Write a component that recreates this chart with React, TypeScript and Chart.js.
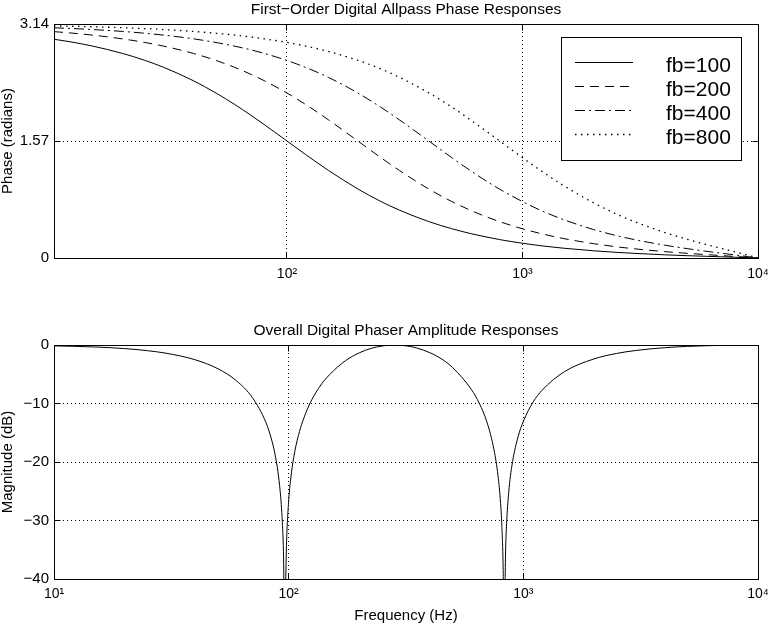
import React, { useEffect, useRef } from "react";
import { Chart, registerables } from "chart.js";

Chart.register(...registerables);

const FONT = "'Liberation Sans', Arial, Helvetica, sans-serif";

// ---------- Top plot: first-order allpass phase responses ----------
const phaseTitle = "First\u2212Order Digital Allpass Phase Responses";
const phaseYLabel = "Phase (radians)";
const phaseFreqs = [10.25, 12, 15, 20, 25, 30, 40, 50, 60, 70, 80, 100, 120, 150, 200, 250, 300, 400, 500, 600, 700, 800, 1000, 1200, 1500, 2000, 2500, 3000, 4000, 5000, 6000, 7000, 8000, 9000, 10000];
const phaseFb100 = [2.937, 2.903, 2.844, 2.747, 2.652, 2.559, 2.381, 2.214, 2.061, 1.920, 1.792, 1.571, 1.389, 1.176, 0.927, 0.760, 0.643, 0.489, 0.394, 0.329, 0.283, 0.247, 0.198, 0.164, 0.131, 0.097, 0.076, 0.062, 0.043, 0.031, 0.023, 0.016, 0.010, 0.005, 0];
const phaseFb200 = [3.039, 3.022, 2.992, 2.942, 2.893, 2.844, 2.747, 2.652, 2.559, 2.468, 2.381, 2.215, 2.061, 1.855, 1.571, 1.349, 1.176, 0.926, 0.760, 0.642, 0.555, 0.488, 0.392, 0.327, 0.260, 0.193, 0.151, 0.123, 0.086, 0.063, 0.046, 0.032, 0.020, 0.010, 0];
const phaseFb400 = [3.090, 3.082, 3.067, 3.042, 3.017, 2.992, 2.943, 2.893, 2.844, 2.796, 2.747, 2.652, 2.559, 2.425, 2.215, 2.025, 1.855, 1.571, 1.349, 1.175, 1.036, 0.924, 0.757, 0.637, 0.513, 0.383, 0.301, 0.246, 0.173, 0.126, 0.091, 0.064, 0.041, 0.020, 0];
const phaseFb800 = [3.116, 3.112, 3.104, 3.092, 3.079, 3.067, 3.042, 3.017, 2.993, 2.968, 2.943, 2.894, 2.845, 2.773, 2.654, 2.539, 2.427, 2.217, 2.028, 1.857, 1.704, 1.571, 1.347, 1.170, 0.969, 0.742, 0.592, 0.486, 0.344, 0.251, 0.183, 0.129, 0.082, 0.040, 0];
const phaseSeriesLabels = ["fb=100", "fb=200", "fb=400", "fb=800"];
const phaseYTicks = [0, 1.5708, 3.1416];
const phaseYTickLabels = ["0", "1.57", "3.14"];
const phaseXTicks = [100, 1000, 10000];
const phaseXMin = 10.25;
const phaseXMax = 10000;
const phaseYMin = 0;
const phaseYMax = 3.1416;

// ---------- Bottom plot: overall phaser amplitude response ----------
const magTitle = "Overall Digital Phaser Amplitude Responses";
const magYLabel = "Magnitude (dB)";
const magXLabel = "Frequency (Hz)";
const magFreqs = [10, 12, 15, 20, 25, 30, 40, 50, 60, 70, 80, 85, 88, 90, 92, 93, 94, 95, 96, 97, 98, 100, 102, 105, 110, 120, 135, 150, 175, 200, 225, 250, 270, 285, 300, 320, 350, 400, 450, 500, 600, 650, 700, 750, 780, 800, 810, 820, 825, 832, 840, 850, 870, 900, 950, 1000, 1100, 1200, 1500, 2000, 2500, 3000, 4000, 5000, 6000, 7000, 8000, 9000, 10000];
const magDb = [-0.15, -0.22, -0.34, -0.61, -0.97, -1.40, -2.53, -4.07, -6.14, -8.98, -13.25, -16.50, -19.23, -21.65, -24.98, -27.28, -30.39, -35.26, -47.2, -41.5, -33.47, -26.65, -22.92, -19.30, -15.48, -11.02, -7.22, -5.00, -2.66, -1.34, -0.57, -0.17, -0.02, 0, -0.04, -0.17, -0.49, -1.32, -2.42, -3.88, -7.58, -10.02, -13.2, -17.93, -22.34, -27.09, -30.91, -37.70, -45.3, -45.8, -35.37, -29.98, -24.41, -19.91, -15.67, -13.05, -9.77, -7.76, -4.54, -2.38, -1.44, -0.95, -0.46, -0.24, -0.13, -0.06, -0.03, -0.01, 0];
const magYTicks = [-40, -30, -20, -10, 0];
const magYTickLabels = ["\u221240", "\u221230", "\u221220", "\u221210", "0"];
const magXTicks = [10, 100, 1000, 10000];
const magXMin = 10;
const magXMax = 10000;
const magYMin = -40;
const magYMax = 0;

const decadeLabels: Record<number, string> = {
  10: "10\u00b9",
  100: "10\u00b2",
  1000: "10\u00b3",
  10000: "10\u2074",
};

// line styles per series (solid, dashed, dash-dot, dotted)
const seriesDashes: number[][] = [[], [9, 6], [10, 4, 2, 4], [1.5, 4.5]];
const seriesWidths: number[] = [1, 1, 1, 1.3];

const align = (v: number) => Math.round(v - 0.5) + 0.5;

const framePlugin = {
  id: "frameTicks",
  afterDraw(chart: any) {
    const { ctx, chartArea } = chart;
    const L = align(chartArea.left);
    const R = align(chartArea.right);
    const T = align(chartArea.top);
    const B = align(chartArea.bottom);
    ctx.save();
    ctx.setLineDash([]);
    ctx.strokeStyle = "#000";
    ctx.lineWidth = 1;
    ctx.strokeRect(L, T, R - L, B - T);
    const len = 6;
    const xs = chart.scales.x;
    const ys = chart.scales.y;
    ctx.beginPath();
    xs.ticks.forEach((t: any) => {
      const p = align(xs.getPixelForValue(t.value));
      ctx.moveTo(p, B);
      ctx.lineTo(p, B - len);
      ctx.moveTo(p, T);
      ctx.lineTo(p, T + len);
    });
    ys.ticks.forEach((t: any) => {
      const p = align(ys.getPixelForValue(t.value));
      ctx.moveTo(L, p);
      ctx.lineTo(L + len, p);
      ctx.moveTo(R, p);
      ctx.lineTo(R - len, p);
    });
    ctx.stroke();
    ctx.restore();
  },
};

const boxLegendPlugin = {
  id: "boxLegend",
  afterDraw(chart: any) {
    const ctx = chart.ctx;
    const bx = 561;
    const by = 37;
    const bw = 180;
    const bh = 123;
    ctx.save();
    ctx.setLineDash([]);
    ctx.fillStyle = "#fff";
    ctx.fillRect(bx, by, bw, bh);
    ctx.strokeStyle = "#000";
    ctx.lineWidth = 1;
    ctx.strokeRect(bx + 0.5, by + 0.5, bw, bh);
    chart.data.datasets.forEach((ds: any, i: number) => {
      const base = by + 34.8 + i * 24.2;
      const ly = Math.round(base - 10) + 0.5;
      ctx.setLineDash(ds.borderDash || []);
      ctx.lineWidth = ds.borderWidth || 1;
      ctx.beginPath();
      ctx.moveTo(bx + 14, ly);
      ctx.lineTo(bx + 72, ly);
      ctx.stroke();
      ctx.setLineDash([]);
      ctx.fillStyle = "#000";
      ctx.font = `21px ${FONT}`;
      ctx.textAlign = "left";
      ctx.textBaseline = "alphabetic";
      ctx.fillText(ds.label, bx + 105, base);
    });
    ctx.restore();
  },
};

const gridOpts = { color: "#000", lineWidth: 1, drawTicks: false };
const borderOpts = { display: true, color: "#000", width: 1, dash: [1, 3] };
const labelFont = { family: FONT, size: 15 };

function xScale(min: number, max: number, ticks: number[], pad: number, height: number, title?: string) {
  return {
    type: "logarithmic",
    bounds: "data",
    min,
    max,
    afterBuildTicks: (s: any) => {
      s.ticks = ticks.map((v) => ({ value: v }));
    },
    afterFit: (s: any) => {
      s.height = height;
      s.paddingLeft = 0;
      s.paddingRight = 0;
    },
    grid: gridOpts,
    border: borderOpts,
    ticks: {
      autoSkip: false,
      maxRotation: 0,
      minRotation: 0,
      padding: pad,
      color: "#000",
      font: { family: FONT, size: 14 },
      callback: (v: any) => decadeLabels[Math.round(Number(v))] ?? "",
    },
    title: title
      ? {
          display: true,
          text: title,
          color: "#000",
          font: labelFont,
          padding: { top: 0, bottom: 2 },
        }
      : { display: false },
  };
}

function yScale(min: number, max: number, ticks: number[], labels: string[], title: string) {
  return {
    type: "linear",
    min,
    max,
    afterBuildTicks: (s: any) => {
      s.ticks = ticks.map((v) => ({ value: v }));
    },
    afterFit: (s: any) => {
      s.width = 54;
      s.paddingTop = 0;
      s.paddingBottom = 0;
    },
    grid: gridOpts,
    border: borderOpts,
    ticks: {
      padding: 5,
      color: "#000",
      font: labelFont,
      callback: (_v: any, i: number) => labels[i],
    },
    title: {
      display: true,
      text: title,
      color: "#000",
      font: labelFont,
      padding: { top: -1.5, bottom: 0 },
    },
  };
}

export default function App() {
  const topRef = useRef<HTMLCanvasElement | null>(null);
  const botRef = useRef<HTMLCanvasElement | null>(null);

  useEffect(() => {
    const phaseSeries = [phaseFb100, phaseFb200, phaseFb400, phaseFb800];
    const top = new Chart(topRef.current as HTMLCanvasElement, {
      type: "line",
      data: {
        datasets: phaseSeries.map((vals, i) => ({
          label: phaseSeriesLabels[i],
          data: phaseFreqs.map((f, j) => ({ x: f, y: vals[j] })),
          borderColor: "#000",
          borderWidth: seriesWidths[i],
          borderDash: seriesDashes[i],
          pointRadius: 0,
          fill: false,
          cubicInterpolationMode: "monotone",
        })),
      },
      options: {
        responsive: false,
        animation: false,
        devicePixelRatio: 1,
        events: [],
        layout: { padding: { left: 0, right: 13, top: 0, bottom: 0 } },
        plugins: {
          legend: { display: false },
          tooltip: { enabled: false },
          title: {
            display: true,
            fullSize: false,
            text: phaseTitle,
            color: "#000",
            font: { family: FONT, size: 15.5, weight: "normal", lineHeight: 1.2 },
            padding: { top: 0, bottom: 5.4 },
          },
        },
        scales: {
          x: xScale(phaseXMin, phaseXMax, phaseXTicks, 7.6, 42),
          y: yScale(phaseYMin, phaseYMax, phaseYTicks, phaseYTickLabels, phaseYLabel),
        },
      } as any,
      plugins: [framePlugin, boxLegendPlugin],
    });

    const bot = new Chart(botRef.current as HTMLCanvasElement, {
      type: "line",
      data: {
        datasets: [
          {
            label: "Phaser",
            data: magFreqs.map((f, j) => ({ x: f, y: magDb[j] })),
            borderColor: "#000",
            borderWidth: 1,
            pointRadius: 0,
            fill: false,
            cubicInterpolationMode: "monotone",
          },
        ],
      },
      options: {
        responsive: false,
        animation: false,
        devicePixelRatio: 1,
        events: [],
        layout: { padding: { left: 0, right: 13, top: 0, bottom: 0 } },
        plugins: {
          legend: { display: false },
          tooltip: { enabled: false },
          title: {
            display: true,
            fullSize: false,
            text: magTitle,
            color: "#000",
            font: { family: FONT, size: 15.5, weight: "normal", lineHeight: 1.2 },
            padding: { top: 21.7, bottom: 4.7 },
          },
        },
        scales: {
          x: xScale(magXMin, magXMax, magXTicks, 6.6, 48, magXLabel),
          y: yScale(magYMin, magYMax, magYTicks, magYTickLabels, magYLabel),
        },
      } as any,
      plugins: [framePlugin],
    });

    return () => {
      top.destroy();
      bot.destroy();
    };
  }, []);

  return (
    <div style={{ position: "absolute", left: 0, top: 0, width: 771, height: 627, background: "#fff" }}>
      <canvas ref={topRef} width={771} height={300} style={{ position: "absolute", left: 0, top: 0 }} />
      <canvas ref={botRef} width={771} height={327} style={{ position: "absolute", left: 0, top: 300 }} />
    </div>
  );
}
